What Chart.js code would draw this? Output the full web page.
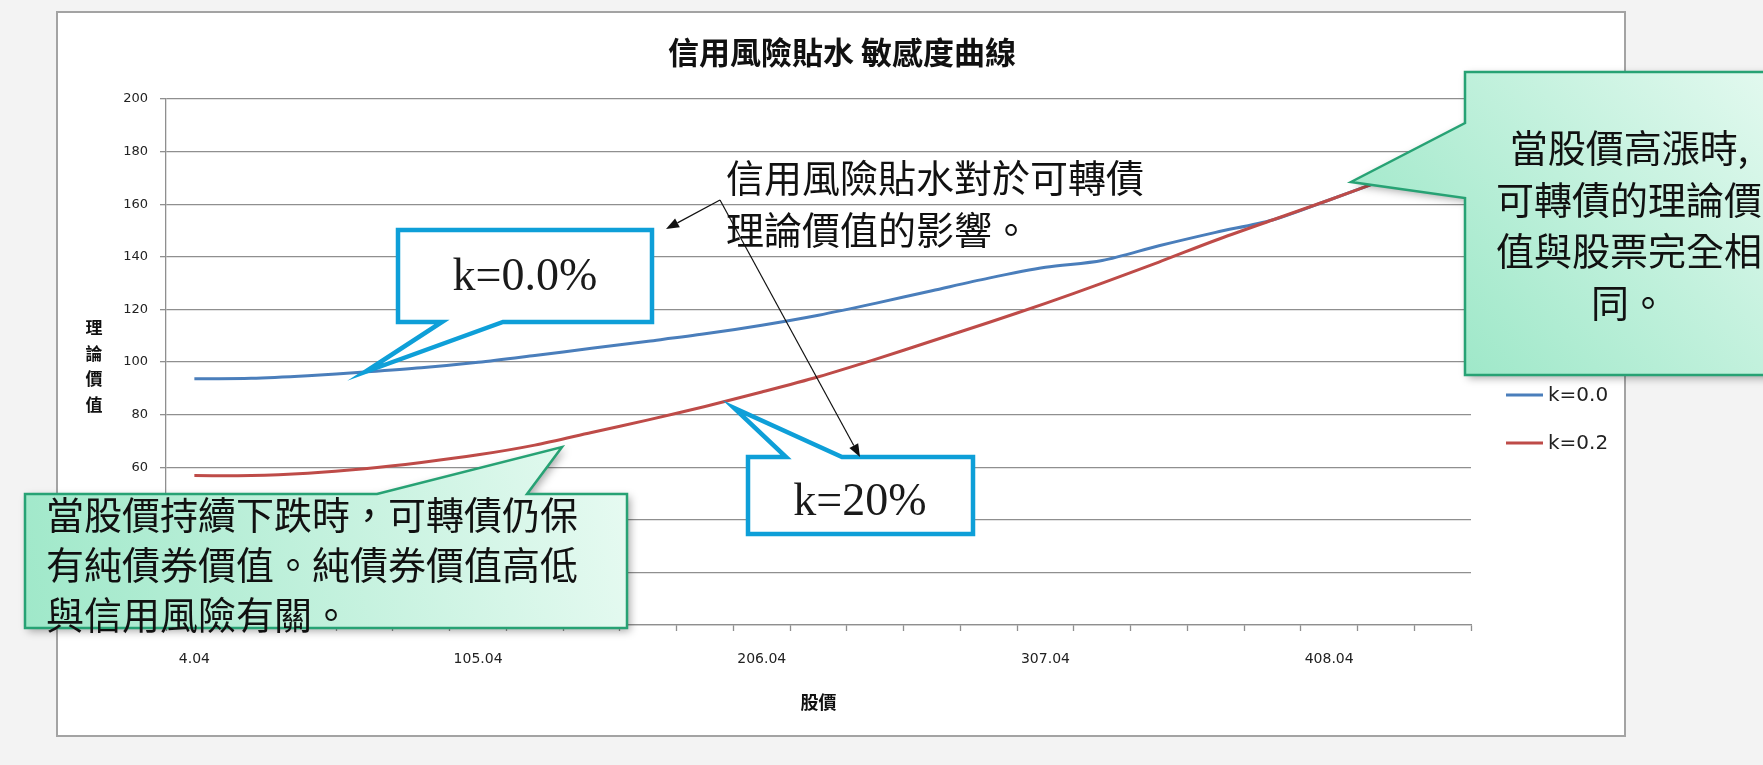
<!DOCTYPE html>
<html><head><meta charset="utf-8">
<script src="https://cdn.jsdelivr.net/npm/chart.js@4.4.1/dist/chart.umd.min.js"></script>
<style>
html,body{margin:0;padding:0;background:#f3f3f3;}
#wrap{width:1763px;height:765px;position:relative;}
</style>
</head><body><div id="wrap"><canvas id="c" width="1763" height="765"></canvas></div>
<script>
// ---- data ----
const stockPrices = [4.04, 24.24, 44.44, 64.64, 84.84, 105.04, 125.24, 145.44, 165.64, 185.84, 206.04, 226.24,
  246.44, 266.64, 286.84, 307.04, 327.24, 347.44, 367.64, 387.84, 408.04, 428.24, 448.44];
const seriesNames = ['k=0.0', 'k=0.2'];
const valuesK00 = [93.6, 93.8, 94.8, 96.2, 97.8, 99.9, 102.5, 105.2, 107.9, 110.7, 114.0, 117.8,
  122.3, 127.1, 131.9, 136.0, 138.6, 144.2, 149.3, 154.0, 161.6, 169.5, 177.5];
const valuesK02 = [56.8, 56.8, 57.7, 59.4, 61.8, 64.7, 68.4, 73.2, 78.0, 83.1, 88.6, 94.4,
  101.0, 108.0, 115.0, 122.3, 130.0, 138.0, 146.3, 154.0, 161.6, 169.5, 177.5];
const xTickLabels = ['4.04', '105.04', '206.04', '307.04', '408.04'];
const yMin = 0, yMax = 200, yStep = 20;
const chartTitle = '信用風險貼水 敏感度曲線';
const xAxisTitle = '股價';
const yAxisTitle = '理論價值';
const noteCredit = ['信用風險貼水對於可轉債', '理論價值的影響。'];
const noteK00 = 'k=0.0%';
const noteK20 = 'k=20%';
const noteFall = ['當股價持續下跌時，可轉債仍保', '有純債券價值。純債券價值高低', '與信用風險有關。'];
const noteRise = ['當股價高漲時,', '可轉債的理論價', '值與股票完全相', '同。'];
const seriesColors = ['#4a7ebb', '#be4b48'];

const CJK = '"Noto Sans CJK TC", "Noto Sans CJK SC", sans-serif';
const GRID = '#8f8f8f';

function calloutPath(ctx, pts) {
  ctx.beginPath();
  ctx.moveTo(pts[0][0], pts[0][1]);
  for (let i = 1; i < pts.length; i++) ctx.lineTo(pts[i][0], pts[i][1]);
  ctx.closePath();
}
function greenCallout(ctx, pts, x0, y0, x1, y1) {
  ctx.save();
  const g = ctx.createLinearGradient(x0, y1, x1, y0);
  g.addColorStop(0, '#9fe8c9');
  g.addColorStop(1, '#e6faf1');
  calloutPath(ctx, pts);
  ctx.shadowColor = 'rgba(0,0,0,0.35)';
  ctx.shadowBlur = 8; ctx.shadowOffsetX = 3; ctx.shadowOffsetY = 3;
  ctx.fillStyle = g; ctx.fill();
  ctx.shadowColor = 'transparent';
  ctx.lineWidth = 2.5; ctx.strokeStyle = '#27a274'; ctx.lineJoin = 'miter';
  ctx.stroke();
  ctx.restore();
}
function blueCallout(ctx, pts) {
  ctx.save();
  calloutPath(ctx, pts);
  ctx.fillStyle = '#ffffff'; ctx.fill();
  ctx.lineWidth = 4.5; ctx.strokeStyle = '#0e9fd8'; ctx.lineJoin = 'miter';
  ctx.stroke();
  ctx.restore();
}
function arrow(ctx, x0, y0, x1, y1) {
  ctx.save();
  ctx.strokeStyle = '#111'; ctx.fillStyle = '#111'; ctx.lineWidth = 1.2;
  const a = Math.atan2(y1 - y0, x1 - x0), L = 13, W = 5;
  const bx = x1 - L * Math.cos(a), by = y1 - L * Math.sin(a);
  ctx.beginPath(); ctx.moveTo(x0, y0); ctx.lineTo(bx, by); ctx.stroke();
  ctx.beginPath(); ctx.moveTo(x1, y1);
  ctx.lineTo(bx + W * Math.sin(a), by - W * Math.cos(a));
  ctx.lineTo(bx - W * Math.sin(a), by + W * Math.cos(a));
  ctx.closePath(); ctx.fill();
  ctx.restore();
}

const decor = {
  id: 'decor',
  beforeDraw(chart) {
    const ctx = chart.ctx;
    ctx.save();
    ctx.fillStyle = '#ffffff';
    ctx.fillRect(57, 12, 1568, 724);
    ctx.strokeStyle = '#a3a3a3'; ctx.lineWidth = 2;
    ctx.strokeRect(57, 12, 1568, 724);
    ctx.restore();
  },
  afterDraw(chart) {
    const ctx = chart.ctx;
    const ca = chart.chartArea;
    ctx.save();
    // title
    ctx.fillStyle = '#111';
    ctx.font = 'bold 31px ' + CJK;
    ctx.textAlign = 'center'; ctx.textBaseline = 'middle';
    ctx.fillText(chartTitle, 842, 52);
    // x axis title
    ctx.font = 'bold 18px ' + CJK;
    ctx.fillText(xAxisTitle, (ca.left + ca.right) / 2, 702);
    // y axis title, stacked
    ctx.font = 'bold 17px ' + CJK;
    [...yAxisTitle].forEach((ch, i) => ctx.fillText(ch, 94, 328 + i * 25.5));
    // legend
    ctx.textAlign = 'left';
    ctx.font = '20px "DejaVu Sans", sans-serif';
    seriesNames.forEach((n, i) => {
      const y = 395 + i * 48;
      ctx.strokeStyle = seriesColors[i]; ctx.lineWidth = 3;
      ctx.beginPath(); ctx.moveTo(1506, y); ctx.lineTo(1543, y); ctx.stroke();
      ctx.fillStyle = '#222';
      ctx.fillText(n, 1548, y + 1);
    });
    ctx.restore();

    // blue callouts
    blueCallout(ctx, [[398,230],[652,230],[652,322],[503,322],[365,372],[442,322],[398,322]]);
    blueCallout(ctx, [[748,457],[786,457],[734,408],[842,457],[973,457],[973,534],[748,534]]);
    ctx.save();
    ctx.fillStyle = '#1a1a1a';
    ctx.font = '46px "Liberation Serif", "DejaVu Serif", serif';
    ctx.textAlign = 'center'; ctx.textBaseline = 'alphabetic';
    ctx.fillText(noteK00, 525, 290);
    ctx.fillText(noteK20, 860, 515);
    ctx.restore();

    // credit note text + arrows
    ctx.save();
    ctx.fillStyle = '#111';
    ctx.font = '38px ' + CJK;
    ctx.textAlign = 'left'; ctx.textBaseline = 'middle';
    ctx.fillText(noteCredit[0], 726, 178);
    ctx.fillText(noteCredit[1], 726, 230);
    ctx.restore();
    arrow(ctx, 720, 200, 666, 229);
    arrow(ctx, 720, 200, 860, 457);

    // green callouts
    greenCallout(ctx, [[25,494],[377,494],[562,447],[527,494],[627,494],[627,628],[25,628]], 25, 494, 627, 628);
    greenCallout(ctx, [[1465,72],[1800,72],[1800,375],[1465,375],[1465,198],[1351,182],[1465,123]], 1465, 72, 1800, 375);
    ctx.save();
    ctx.fillStyle = '#111';
    ctx.font = '38px ' + CJK;
    ctx.textBaseline = 'middle';
    ctx.textAlign = 'left';
    noteFall.forEach((t, i) => ctx.fillText(t, 46, 515 + i * 50));
    ctx.textAlign = 'center';
    noteRise.forEach((t, i) => ctx.fillText(t, 1629, 148 + i * 51.5));
    ctx.restore();
  }
};

new Chart(document.getElementById('c'), {
  type: 'line',
  data: {
    labels: stockPrices.map(v => v.toFixed(2)),
    datasets: [
      { label: seriesNames[0], data: valuesK00, borderColor: seriesColors[0], borderWidth: 3,
        pointRadius: 0, tension: 0.3, fill: false, order: 1 },
      { label: seriesNames[1], data: valuesK02, borderColor: seriesColors[1], borderWidth: 3,
        pointRadius: 0, tension: 0.3, fill: false, order: 0 }
    ]
  },
  options: {
    responsive: false,
    animation: false,
    layout: { padding: { left: 0, top: 99, right: 292, bottom: 0 } },
    plugins: { legend: { display: false }, title: { display: false }, tooltip: { enabled: false } },
    scales: {
      x: {
        type: 'category',
        offset: true,
        grid: { display: true, offset: true, drawOnChartArea: false, drawTicks: true, tickLength: 6,
          tickColor: GRID, tickWidth: 1.3 },
        border: { display: true, color: GRID, width: 1.3 },
        ticks: {
          autoSkip: false, maxRotation: 0, minRotation: 0, padding: 20,
          font: { family: '"DejaVu Sans", sans-serif', size: 14 }, color: '#222',
          callback: function (v) { const l = this.getLabelForValue(v); return xTickLabels.includes(l) ? l : ''; }
        },
        afterFit: s => { s.height = 140; }
      },
      y: {
        min: yMin, max: yMax,
        grid: { color: GRID, lineWidth: 1.3, drawTicks: true, tickLength: 6, tickColor: GRID },
        border: { display: true, color: GRID, width: 1.3 },
        ticks: { stepSize: yStep, padding: 12, font: { family: '"DejaVu Sans", sans-serif', size: 13 }, color: '#222' },
        afterFit: s => { s.width = 166; }
      }
    }
  },
  plugins: [decor]
});
</script>
</body></html>
